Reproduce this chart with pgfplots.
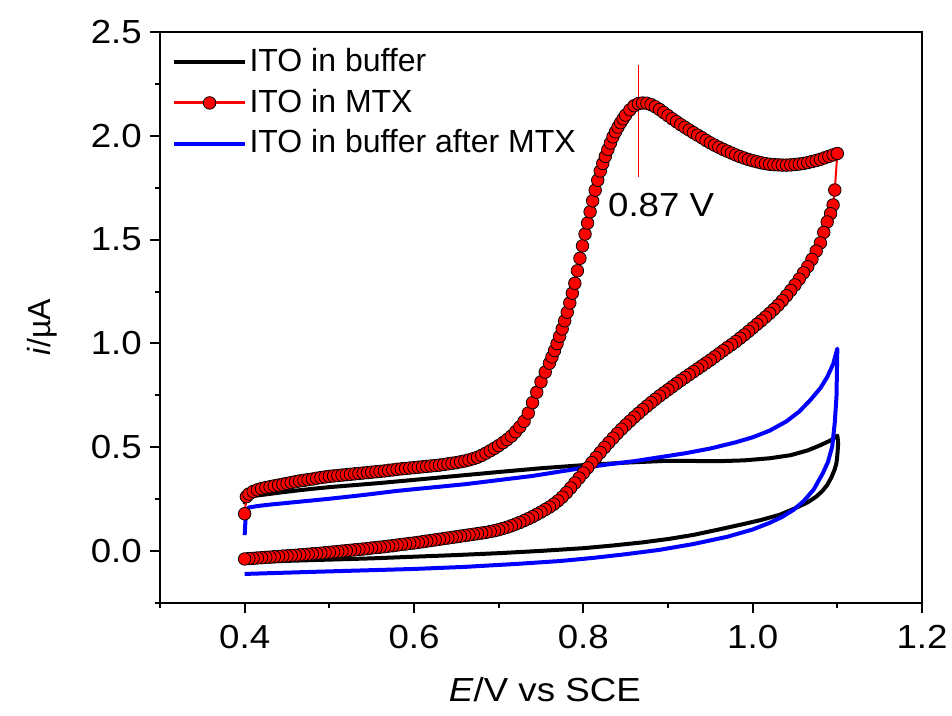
\documentclass[border=0pt]{standalone}
\usepackage{pgfplots}
\usepackage{pgfplotstable}
\pgfplotsset{compat=1.18}
\usepackage{fontspec}
\setmainfont{Liberation Sans}
\newfontfamily\widefont{Liberation Sans}[FakeStretch=1.1]
\newcommand{\bigf}{\fontsize{24pt}{28pt}\selectfont}
\newcommand{\widef}{\widefont\fontsize{25pt}{29pt}\selectfont}

\pgfplotstableread{
x y
0.400 0.225
0.401 0.242
0.403 0.254
0.407 0.262
0.415 0.268
0.425 0.273
0.440 0.281
0.460 0.291
0.480 0.300
0.500 0.308
0.530 0.318
0.560 0.328
0.600 0.343
0.650 0.362
0.700 0.381
0.750 0.399
0.800 0.414
0.850 0.426
0.900 0.435
0.930 0.434
0.960 0.433
0.990 0.437
1.020 0.447
1.045 0.462
1.065 0.485
1.080 0.510
1.092 0.533
1.100 0.556
1.101 0.520
1.100 0.460
1.099 0.425
1.097 0.395
1.093 0.355
1.088 0.318
1.082 0.288
1.075 0.262
1.065 0.235
1.050 0.206
1.032 0.175
1.010 0.150
0.990 0.131
0.960 0.104
0.930 0.078
0.900 0.058
0.870 0.042
0.835 0.027
0.800 0.014
0.750 0.001
0.700 -0.010
0.650 -0.019
0.600 -0.027
0.550 -0.035
0.500 -0.041
0.450 -0.047
0.400 -0.054
}\buffer

\pgfplotstableread{
x y
0.400 0.077
0.401 0.150
0.402 0.195
0.405 0.210
0.415 0.217
0.430 0.224
0.460 0.236
0.500 0.252
0.540 0.270
0.580 0.290
0.620 0.306
0.660 0.322
0.700 0.342
0.740 0.362
0.780 0.388
0.800 0.401
0.830 0.418
0.860 0.433
0.890 0.452
0.920 0.471
0.950 0.494
0.980 0.524
1.000 0.548
1.020 0.580
1.040 0.625
1.055 0.672
1.068 0.727
1.080 0.785
1.088 0.838
1.095 0.900
1.100 0.975
1.0995 0.860
1.099 0.745
1.097 0.620
1.094 0.505
1.089 0.430
1.083 0.376
1.072 0.296
1.060 0.240
1.048 0.198
1.035 0.165
1.020 0.136
1.000 0.104
0.970 0.069
0.930 0.034
0.890 0.006
0.850 -0.015
0.811 -0.033
0.772 -0.048
0.720 -0.062
0.660 -0.076
0.600 -0.086
0.540 -0.093
0.480 -0.100
0.440 -0.105
0.400 -0.110
}\after

\pgfplotstableread{
x y
0.400 0.180
0.402 0.262
0.405 0.275
0.410 0.287
0.415 0.295
0.420 0.301
0.425 0.306
0.430 0.310
0.435 0.314
0.440 0.318
0.445 0.322
0.450 0.326
0.455 0.330
0.460 0.334
0.465 0.338
0.470 0.341
0.475 0.344
0.480 0.347
0.485 0.351
0.490 0.354
0.495 0.357
0.500 0.360
0.505 0.362
0.510 0.364
0.515 0.366
0.520 0.368
0.525 0.370
0.530 0.372
0.535 0.374
0.540 0.376
0.545 0.378
0.550 0.380
0.555 0.382
0.560 0.384
0.565 0.386
0.570 0.389
0.575 0.391
0.580 0.394
0.585 0.396
0.590 0.398
0.595 0.400
0.600 0.402
0.605 0.404
0.610 0.406
0.615 0.408
0.620 0.410
0.625 0.412
0.630 0.414
0.635 0.417
0.640 0.420
0.645 0.423
0.650 0.426
0.655 0.430
0.660 0.434
0.665 0.439
0.670 0.445
0.675 0.452
0.680 0.461
0.685 0.472
0.690 0.483
0.695 0.495
0.700 0.508
0.705 0.522
0.710 0.537
0.715 0.554
0.720 0.575
0.725 0.598
0.730 0.625
0.735 0.665
0.740 0.715
0.745 0.765
0.750 0.815
0.755 0.862
0.760 0.905
0.763 0.935
0.766 0.966
0.769 0.999
0.772 1.034
0.775 1.070
0.778 1.109
0.781 1.150
0.784 1.195
0.787 1.242
0.790 1.290
0.793 1.350
0.796 1.410
0.799 1.470
0.802 1.527
0.805 1.580
0.808 1.634
0.811 1.687
0.814 1.738
0.817 1.786
0.820 1.830
0.823 1.867
0.826 1.901
0.829 1.934
0.832 1.965
0.835 1.995
0.838 2.019
0.841 2.042
0.844 2.063
0.847 2.082
0.850 2.100
0.855 2.125
0.860 2.145
0.865 2.155
0.870 2.158
0.875 2.157
0.880 2.150
0.885 2.140
0.890 2.127
0.895 2.112
0.900 2.097
0.905 2.082
0.910 2.068
0.915 2.054
0.920 2.041
0.925 2.028
0.930 2.015
0.935 2.003
0.940 1.991
0.945 1.978
0.950 1.966
0.955 1.955
0.960 1.945
0.965 1.935
0.970 1.926
0.975 1.917
0.980 1.908
0.985 1.900
0.990 1.893
0.995 1.886
1.000 1.880
1.005 1.875
1.010 1.870
1.015 1.866
1.020 1.863
1.025 1.861
1.030 1.860
1.035 1.859
1.040 1.859
1.045 1.860
1.050 1.862
1.055 1.864
1.060 1.867
1.065 1.871
1.070 1.876
1.075 1.881
1.080 1.887
1.085 1.894
1.090 1.901
1.095 1.908
1.100 1.915
1.097 1.739
1.095 1.667
1.092 1.625
1.088 1.585
1.084 1.535
1.080 1.484
1.075 1.445
1.070 1.405
1.065 1.370
1.060 1.340
1.055 1.310
1.050 1.282
1.045 1.255
1.040 1.230
1.035 1.206
1.030 1.184
1.025 1.164
1.020 1.145
1.015 1.127
1.010 1.109
1.005 1.092
1.000 1.075
0.995 1.058
0.990 1.041
0.985 1.025
0.980 1.009
0.975 0.994
0.970 0.980
0.965 0.965
0.960 0.950
0.955 0.935
0.950 0.920
0.945 0.906
0.940 0.892
0.935 0.878
0.930 0.864
0.925 0.850
0.920 0.836
0.915 0.822
0.910 0.807
0.905 0.792
0.900 0.777
0.895 0.762
0.890 0.747
0.885 0.731
0.880 0.715
0.875 0.698
0.870 0.681
0.865 0.663
0.860 0.645
0.855 0.626
0.850 0.607
0.845 0.587
0.840 0.566
0.835 0.544
0.830 0.522
0.825 0.499
0.820 0.475
0.815 0.451
0.810 0.426
0.805 0.401
0.800 0.376
0.795 0.352
0.790 0.328
0.785 0.304
0.780 0.281
0.775 0.260
0.770 0.242
0.765 0.226
0.760 0.212
0.755 0.200
0.750 0.188
0.745 0.177
0.740 0.166
0.735 0.156
0.730 0.147
0.725 0.138
0.720 0.130
0.715 0.122
0.710 0.115
0.705 0.109
0.700 0.103
0.695 0.098
0.690 0.094
0.685 0.090
0.680 0.087
0.675 0.084
0.670 0.081
0.665 0.078
0.660 0.075
0.655 0.072
0.650 0.069
0.645 0.066
0.640 0.063
0.635 0.060
0.630 0.057
0.625 0.054
0.620 0.051
0.615 0.048
0.610 0.045
0.605 0.042
0.600 0.039
0.595 0.037
0.590 0.034
0.585 0.032
0.580 0.029
0.575 0.026
0.570 0.024
0.565 0.021
0.560 0.019
0.555 0.017
0.550 0.015
0.545 0.012
0.540 0.010
0.535 0.008
0.530 0.006
0.525 0.004
0.520 0.002
0.515 0.000
0.510 -0.002
0.505 -0.004
0.500 -0.006
0.495 -0.008
0.490 -0.010
0.485 -0.012
0.480 -0.013
0.475 -0.015
0.470 -0.017
0.465 -0.018
0.460 -0.020
0.455 -0.021
0.450 -0.023
0.445 -0.024
0.440 -0.026
0.435 -0.027
0.430 -0.029
0.425 -0.030
0.420 -0.032
0.415 -0.033
0.410 -0.035
0.405 -0.036
0.400 -0.038
}\mtx

\begin{document}
\bigf
\begin{tikzpicture}
\path[use as bounding box] (-120pt,-84pt) rectangle (594pt,452.25pt);
\begin{axis}[
  at={(0,0)}, anchor=south west,
  scale only axis, width=571.5pt, height=428.25pt,
  xmin=0.3, xmax=1.2, ymin=-0.25, ymax=2.5,
  xtick={0.4,0.6,0.8,1.0,1.2}, minor xtick={0.3,0.5,0.7,0.9,1.1},
  ytick={0,0.5,1,1.5,2,2.5}, minor ytick={-0.25,0.25,0.75,1.25,1.75,2.25},
  tick pos=left, tick align=outside,
  major tick length=7.5pt, minor tick length=3.75pt,
  axis line style={line width=1.5pt},
  tick style={line width=1.5pt, black},
  /pgf/number format/assume math mode=true,
  ticklabel style={font=\widef},
  xticklabel style={yshift=-1pt, /pgf/number format/.cd, fixed, fixed zerofill, precision=1},
  yticklabel style={xshift=2pt, /pgf/number format/.cd, fixed, fixed zerofill, precision=1},
  xlabel={\textit{E}/V vs SCE},
  ylabel={\textit{i}/µA},
  xlabel style={font=\widef, at={(axis description cs:0.505,-0.152)}, anchor=center},
  ylabel style={font=\bigf, at={(axis description cs:-0.155,0.483)}, anchor=center},
  legend style={draw=none, fill=none, at={(axis description cs:0,1)}, anchor=north west,
    xshift=9pt, yshift=-10pt, inner sep=0pt, row sep=5.5pt, font=\bigf,
    cells={anchor=west}},
  legend image code/.code={\draw[mark repeat=2,mark phase=2,#1] plot coordinates {(0pt,0pt) (26.5pt,0pt) (53pt,0pt)};},
]
\addlegendimage{black, line width=3pt, mark=none}
\addlegendentry{ITO in buffer}
\addlegendimage{red, line width=2.2pt, mark=*, mark size=4.7pt, mark options={fill=red, draw=black, line width=0.6pt}}
\addlegendentry{ITO in MTX}
\addlegendimage{blue, line width=3pt, mark=none}
\addlegendentry{ITO in buffer after MTX}

\addplot[black, line width=3pt, line join=round, mark=none, forget plot] table {\buffer};
\addplot[blue, line width=3pt, line join=round, mark=none, forget plot] table {\after};
\addplot[red, line width=1.5pt, line join=round, mark=*, mark size=4.7pt, mark options={fill=red, draw=black, line width=0.6pt}, forget plot] table {\mtx};
\addplot[red, line width=0.75pt, mark=none, forget plot] coordinates {(0.865,1.80) (0.865,2.34)};
\node[anchor=west, inner sep=0pt, font=\widef] at (axis cs:0.829,1.667) {0.87 V};
\end{axis}
\end{tikzpicture}
\end{document}
